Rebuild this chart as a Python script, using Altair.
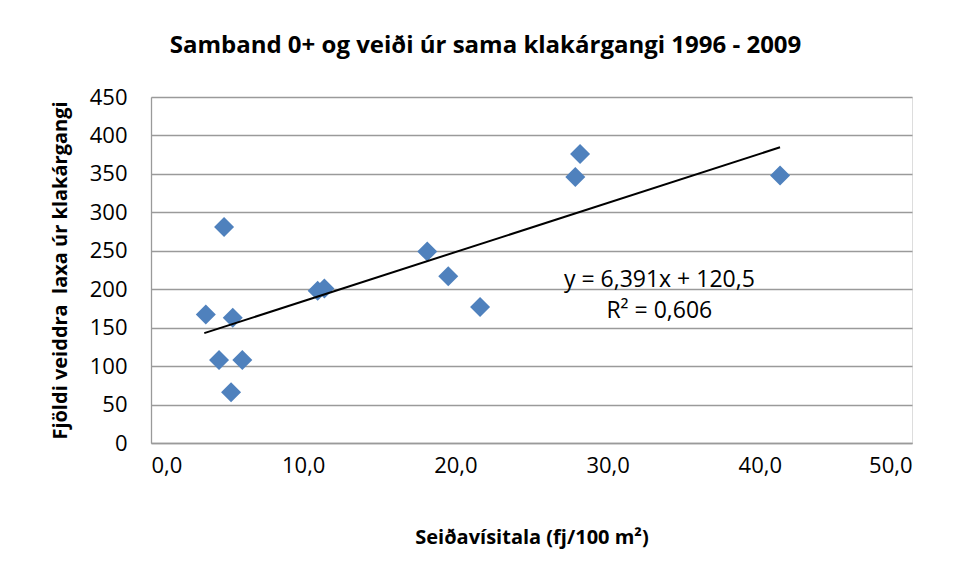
import altair as alt
import pandas as pd

# Data
seidavisitala = [3.6, 4.8, 5.37, 4.47, 6.0, 5.26, 10.95, 11.39, 18.15, 19.53, 21.62, 27.88, 28.19, 41.33]
veidi = [167, 281, 163, 108, 108, 66, 198, 201, 249, 217, 177, 346, 376, 348]

# Trend line (Excel linear fit shown on the chart)
trend_slope = 6.391
trend_intercept = 120.5
trend_x = [3.5, 41.33]

equation_lines = ["y = 6,391x + 120,5", "R² = 0,606"]

x_ticks = [0, 10, 20, 30, 40, 50]
y_ticks = [0, 50, 100, 150, 200, 250, 300, 350, 400, 450]

FONT = "Open Sans"
BLUE = "#4F81BD"
GRID = "#9A9A9A"

pts = pd.DataFrame({"x": seidavisitala, "y": veidi})
trend = pd.DataFrame({"x": trend_x, "m": [trend_slope] * 2, "b": [trend_intercept] * 2})
eq = pd.DataFrame({"label": equation_lines, "x": [33.4, 33.4], "y": [212, 172]})

xscale = alt.Scale(domain=[0, 50], nice=False, zero=True)
yscale = alt.Scale(domain=[0, 450], nice=False, zero=True)

xaxis = alt.Axis(
    values=x_ticks,
    labelExpr="replace(format(datum.value, '.1f'), '.', ',')",
    grid=False,
    ticks=False,
    domainColor=GRID,
    domainWidth=1.3,
    labelPadding=12,
    labelFontSize=22,
    labelFont=FONT,
    labelColor="#000000",
    labelOverlap=False,
    title="Seiðavísitala (fj/100 m²)",
    titleFont=FONT,
    titleFontSize=20,
    titleFontWeight="bold",
    titleColor="#000000",
    titleY=94,
    titleBaseline="middle",
)
yaxis = alt.Axis(
    values=y_ticks,
    grid=True,
    gridColor=GRID,
    gridWidth=1.3,
    ticks=False,
    domainColor=GRID,
    domainWidth=1.3,
    labelPadding=24,
    labelFontSize=22,
    labelFont=FONT,
    labelColor="#000000",
    labelOverlap=False,
    title="Fjöldi veiddra\u00a0 laxa úr klakárgangi",
    titleFont=FONT,
    titleFontSize=20,
    titleFontWeight="bold",
    titleColor="#000000",
    titleAngle=-90,
    titleX=-91,
    titleY=173,
    titleAlign="center",
    titleBaseline="middle",
)

points = alt.Chart(pts).mark_point(
    shape="diamond", filled=True, size=400, color=BLUE, opacity=1
).encode(
    x=alt.X("x:Q", scale=xscale, axis=xaxis),
    y=alt.Y("y:Q", scale=yscale, axis=yaxis),
)

line = alt.Chart(trend).transform_calculate(
    yfit="datum.m * datum.x + datum.b"
).mark_line(color="#000000", strokeWidth=2).encode(
    x=alt.X("x:Q", scale=xscale, axis=xaxis),
    y=alt.Y("yfit:Q", scale=yscale, axis=yaxis),
)

text = alt.Chart(eq).mark_text(
    font=FONT, fontSize=23, color="#000000", align="center", baseline="middle"
).encode(
    x=alt.X("x:Q", scale=xscale, axis=xaxis),
    y=alt.Y("y:Q", scale=yscale, axis=yaxis),
    text="label:N",
)

chart = alt.layer(points, line, text).properties(
    width=761,
    height=346,
    title=alt.TitleParams(
        text="Samband 0+ og veiði úr sama klakárgangi 1996 - 2009",
        font=FONT,
        fontSize=24,
        fontWeight="bold",
        color="#000000",
        anchor="middle",
        frame="group",
        baseline="middle",
        offset=0,
        dx=-46,
        dy=-16,
    ),
    autosize=alt.AutoSizeParams(type="none"),
    padding={"left": 143, "top": 89, "right": 30, "bottom": 120},
).configure_view(strokeWidth=0).configure(background="#ffffff")

chart.save("out.html", embed_options={"renderer": "svg", "actions": False})
